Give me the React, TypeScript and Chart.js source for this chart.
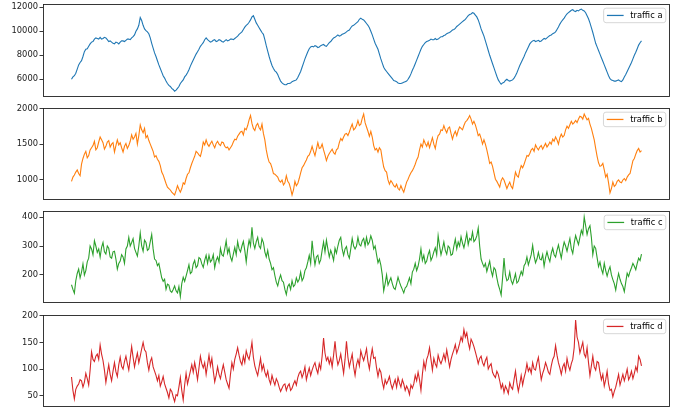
import React, { useEffect, useRef } from "react";
import { Chart, registerables } from "chart.js";

Chart.register(...registerables);

const seriesA = [
  6000, 6200, 6300, 6500, 6850, 7200, 7400, 7550, 7900, 8300, 8500, 8550, 8750, 8950, 9100, 9150, 9350, 9450, 9400, 9350,
  9500, 9350, 9400, 9500, 9450, 9300, 9150, 9200, 9100, 9000, 8950, 9100, 9050, 8950, 9100, 9200, 9200, 9150, 9250, 9350,
  9350, 9300, 9450, 9550, 9700, 10000, 10200, 10500, 11150, 10900, 10500, 10200, 10050, 9950, 9800, 9450, 9000, 8600, 8200, 7900,
  7550, 7200, 6900, 6600, 6300, 6100, 5850, 5650, 5500, 5400, 5250, 5150, 5000, 5100, 5250, 5400, 5650, 5800, 5950, 6200,
  6350, 6550, 6800, 7100, 7350, 7600, 7850, 8100, 8300, 8500, 8750, 8900, 9050, 9300, 9450, 9300, 9200, 9100, 9150, 9250,
  9300, 9150, 9200, 9300, 9250, 9150, 9100, 9200, 9300, 9200, 9250, 9350, 9350, 9300, 9400, 9500, 9600, 9750, 9850, 9950,
  10150, 10350, 10500, 10600, 10750, 10950, 11200, 11300, 11000, 10700, 10500, 10300, 10100, 9900, 9750, 9300, 8800, 8350, 7900, 7500,
  7150, 6900, 6700, 6600, 6400, 6100, 5850, 5700, 5600, 5550, 5550, 5650, 5650, 5700, 5800, 5850, 5900, 5950, 6150, 6400,
  6650, 7000, 7350, 7700, 8000, 8300, 8550, 8700, 8750, 8700, 8800, 8750, 8650, 8700, 8800, 8850, 8900, 8800, 8750, 8900,
  9050, 9150, 9300, 9450, 9500, 9600, 9700, 9600, 9650, 9750, 9800, 9850, 9950, 10050, 10100, 10300, 10450, 10500, 10600, 10700,
  10800, 11000, 11100, 11000, 10950, 10800, 10650, 10500, 10300, 10000, 9700, 9350, 9000, 8750, 8500, 8100, 7700, 7350, 7000, 6800,
  6650, 6500, 6350, 6200, 6050, 5900, 5850, 5800, 5700, 5650, 5650, 5700, 5750, 5800, 5850, 6000, 6200, 6450, 6750, 7000,
  7300, 7600, 7900, 8200, 8500, 8750, 8900, 9050, 9150, 9200, 9250, 9350, 9300, 9300, 9400, 9300, 9350, 9450, 9550, 9550,
  9650, 9700, 9800, 9850, 9900, 10000, 10100, 10150, 10250, 10400, 10500, 10600, 10700, 10800, 10900, 11000, 11150, 11300, 11400, 11450,
  11550, 11500, 11350, 11200, 10950, 10600, 10200, 9900, 9600, 9200, 8800, 8400, 8000, 7650, 7300, 6950, 6600, 6250, 5950, 5750,
  5600, 5700, 5750, 5900, 6000, 5900, 5850, 5900, 5950, 6100, 6300, 6550, 6850, 7150, 7400, 7650, 7900, 8200, 8450, 8700,
  8950, 9100, 9200, 9250, 9150, 9200, 9250, 9150, 9200, 9300, 9400, 9350, 9450, 9550, 9650, 9700, 9800, 9850, 9950, 10150,
  10350, 10600, 10800, 10950, 11100, 11300, 11450, 11550, 11650, 11750, 11800, 11700, 11650, 11750, 11700, 11800, 11850, 11750, 11700, 11550,
  11300, 11050, 10700, 10300, 9900, 9450, 9000, 8700, 8400, 8100, 7800, 7500, 7200, 6900, 6600, 6300, 6050, 5950, 5900, 5850,
  5850, 5900, 5950, 5850, 5800, 5950, 6200, 6400, 6650, 6900, 7150, 7400, 7700, 8000, 8250, 8550, 8850, 9050, 9200,
];

const seriesB = [
  980, 1040, 1070, 1110, 1140, 1090, 1060, 1220, 1300, 1360, 1400, 1310, 1340, 1420, 1450, 1480, 1540, 1420, 1450, 1530,
  1600, 1560, 1520, 1430, 1470, 1530, 1550, 1460, 1500, 1520, 1390, 1480, 1560, 1490, 1520, 1450, 1390, 1470, 1510, 1440,
  1480, 1540, 1630, 1570, 1600, 1650, 1500, 1620, 1770, 1700, 1660, 1720, 1590, 1620, 1550, 1500, 1450, 1400, 1320, 1340,
  1290, 1260, 1200, 1110, 1070, 1010, 950, 900, 880, 860, 830, 810, 790, 850, 920, 870, 830, 880, 960, 940,
  1020, 1080, 1100, 1170, 1230, 1280, 1330, 1400, 1380, 1350, 1330, 1410, 1530, 1490, 1560, 1500, 1470, 1510, 1540, 1490,
  1450, 1510, 1540, 1500, 1480, 1530, 1520, 1470, 1450, 1460, 1420, 1450, 1480, 1530, 1570, 1560, 1610, 1640, 1670, 1680,
  1630, 1720, 1700, 1760, 1840, 1900, 1790, 1720, 1690, 1760, 1790, 1730, 1700, 1780, 1650, 1560, 1420, 1320, 1250, 1230,
  1170, 1090, 1080, 1060, 1040, 990, 970, 1000, 930, 960, 1060, 980, 950, 880, 790, 860, 980, 920, 950, 1020,
  1100, 1170, 1200, 1240, 1280, 1330, 1350, 1400, 1470, 1400, 1340, 1430, 1520, 1440, 1450, 1500, 1420, 1350, 1270, 1330,
  1370, 1400, 1430, 1380, 1360, 1420, 1440, 1520, 1580, 1550, 1600, 1640, 1650, 1620, 1670, 1730, 1780, 1700, 1720, 1760,
  1830, 1760, 1780, 1860, 1920, 1800, 1740, 1680, 1610, 1680, 1600, 1480, 1420, 1440, 1390, 1450, 1420, 1290, 1180, 1130,
  1110, 1000, 940, 990, 960, 920, 900, 940, 880, 860, 920, 870, 830, 900, 970, 1010, 1060, 1100, 1130, 1170,
  1220, 1280, 1320, 1420, 1500, 1460, 1560, 1510, 1470, 1530, 1450, 1520, 1590, 1500, 1440, 1550, 1620, 1640, 1700, 1690,
  1760, 1700, 1660, 1720, 1740, 1650, 1570, 1640, 1680, 1620, 1690, 1740, 1720, 1700, 1760, 1810, 1830, 1860, 1900, 1850,
  1780, 1820, 1770, 1700, 1620, 1640, 1580, 1500, 1560, 1500, 1420, 1330, 1230, 1250, 1190, 1100, 1010, 980, 940, 900,
  990, 1030, 1000, 940, 880, 930, 970, 910, 880, 990, 1110, 1060, 1040, 1130, 1200, 1170, 1220, 1280, 1340, 1330,
  1370, 1420, 1440, 1400, 1490, 1450, 1420, 1460, 1480, 1430, 1470, 1510, 1460, 1490, 1530, 1500, 1570, 1540, 1600, 1560,
  1500, 1590, 1640, 1600, 1620, 1700, 1750, 1720, 1770, 1820, 1780, 1800, 1830, 1800, 1850, 1890, 1880, 1850, 1920, 1880,
  1840, 1860, 1780, 1720, 1640, 1560, 1440, 1330, 1240, 1190, 1200, 1230, 1140, 1040, 1080, 960, 820, 880, 970, 910,
  930, 980, 1000, 970, 960, 1000, 1020, 990, 1040, 1070, 1090, 1180, 1270, 1300, 1360, 1410, 1440, 1390, 1410,
];

const seriesC = [
  166, 150, 137, 180, 205, 220, 190, 210, 238, 200, 215, 245, 258, 300, 290, 270, 318, 300, 278, 290,
  262, 295, 312, 280, 272, 300, 292, 262, 258, 280, 282, 255, 220, 240, 248, 270, 262, 240, 290, 300,
  330, 300, 312, 325, 292, 278, 265, 300, 345, 300, 282, 320, 312, 285, 290, 315, 340, 290, 255, 250,
  232, 240, 215, 190, 178, 185, 150, 168, 165, 145, 140, 150, 162, 145, 138, 160, 125, 170, 192, 178,
  196, 215, 235, 205, 210, 238, 250, 225, 232, 260, 256, 238, 226, 250, 268, 240, 268, 245, 252, 270,
  225, 250, 262, 245, 292, 270, 265, 290, 318, 275, 292, 262, 248, 272, 295, 270, 315, 290, 280, 300,
  316, 285, 245, 290, 320, 300, 365, 310, 292, 315, 330, 300, 292, 325, 312, 280, 262, 285, 255, 240,
  218, 225, 198, 175, 162, 185, 200, 180, 175, 150, 132, 160, 168, 150, 180, 160, 166, 190, 175, 185,
  210, 180, 190, 215, 225, 245, 268, 240, 318, 270, 235, 262, 268, 240, 252, 285, 314, 280, 320, 290,
  262, 285, 270, 250, 292, 275, 300, 320, 330, 290, 268, 290, 298, 270, 258, 290, 326, 300, 290, 300,
  330, 305, 300, 318, 326, 300, 330, 305, 314, 335, 320, 290, 300, 270, 242, 255, 234, 200, 145, 170,
  200, 165, 178, 190, 170, 155, 150, 170, 192, 175, 162, 150, 138, 155, 160, 175, 190, 170, 210, 220,
  240, 215, 230, 255, 290, 250, 268, 240, 248, 270, 284, 250, 262, 280, 294, 270, 336, 300, 270, 290,
  314, 285, 272, 300, 294, 268, 272, 300, 324, 290, 314, 300, 332, 310, 294, 318, 344, 305, 326, 320,
  348, 315, 322, 335, 362, 300, 255, 240, 228, 240, 212, 230, 248, 215, 196, 225, 218, 190, 166, 150,
  131, 190, 258, 200, 180, 185, 210, 180, 168, 185, 204, 172, 178, 195, 212, 200, 232, 240, 262, 235,
  252, 270, 302, 265, 242, 255, 278, 255, 252, 270, 230, 260, 280, 260, 246, 275, 292, 270, 262, 285,
  304, 280, 258, 290, 314, 300, 282, 305, 326, 290, 274, 310, 336, 320, 305, 330, 354, 340, 400, 370,
  340, 360, 370, 330, 270, 300, 292, 260, 229, 245, 220, 205, 240, 215, 196, 215, 228, 200, 184, 170,
  148, 180, 205, 185, 170, 160, 142, 175, 206, 195, 212, 225, 240, 230, 218, 240, 258, 250, 272,
];

const seriesD = [
  85, 60, 44, 62, 68, 72, 80, 78, 66, 75, 92, 82, 70, 98, 132, 118, 114, 124, 128, 118,
  145, 128, 116, 98, 75, 92, 108, 90, 78, 96, 112, 95, 86, 108, 122, 105, 100, 114, 124, 110,
  98, 120, 142, 122, 104, 118, 130, 112, 124, 138, 150, 136, 132, 112, 98, 114, 121, 104, 96, 88,
  78, 88, 68, 76, 86, 72, 64, 56, 46, 62, 58, 48, 39, 52, 50, 66, 84, 60, 42, 70,
  92, 72, 84, 96, 108, 94, 112, 98, 80, 102, 124, 110, 102, 112, 90, 108, 126, 106, 120, 96,
  76, 88, 104, 90, 82, 96, 108, 94, 80, 72, 64, 90, 112, 100, 118, 128, 140, 126, 114, 108,
  124, 112, 134, 124, 118, 132, 150, 122, 106, 96, 88, 104, 120, 98, 108, 94, 86, 96, 80, 72,
  88, 78, 70, 82, 76, 66, 58, 64, 70, 72, 60, 68, 72, 60, 64, 72, 78, 70, 84, 92,
  96, 84, 92, 104, 80, 92, 102, 88, 98, 106, 112, 100, 92, 110, 100, 124, 158, 130, 116, 122,
  110, 120, 104, 126, 152, 124, 108, 116, 128, 110, 92, 118, 152, 122, 104, 116, 128, 104, 88, 108,
  118, 106, 134, 124, 116, 126, 138, 114, 100, 122, 138, 120, 122, 102, 86, 100, 94, 76, 64, 80,
  72, 78, 86, 72, 63, 72, 80, 66, 84, 74, 66, 80, 72, 60, 68, 62, 52, 70, 64, 72,
  88, 78, 94, 80, 60, 90, 114, 100, 118, 126, 140, 118, 98, 120, 110, 104, 126, 116, 110, 118,
  128, 116, 136, 120, 104, 118, 128, 136, 146, 130, 138, 148, 160, 152, 174, 160, 168, 150, 138, 156,
  150, 142, 132, 122, 110, 120, 124, 112, 106, 116, 122, 100, 106, 110, 94, 88, 84, 96, 90, 78,
  64, 72, 56, 68, 62, 54, 74, 66, 62, 80, 96, 74, 58, 72, 88, 70, 84, 94, 110, 96,
  102, 92, 112, 100, 98, 112, 122, 100, 80, 92, 100, 112, 104, 94, 90, 106, 118, 124, 144, 126,
  112, 102, 90, 104, 110, 96, 120, 106, 98, 110, 118, 140, 192, 160, 150, 130, 140, 150, 128, 122,
  140, 112, 88, 106, 124, 104, 98, 114, 112, 94, 80, 90, 68, 80, 96, 72, 60, 62, 48, 58,
  66, 78, 90, 70, 80, 90, 78, 88, 100, 80, 86, 96, 82, 92, 104, 96, 124, 118, 106,
];

const seriesLabels = ["traffic a", "traffic b", "traffic c", "traffic d"];
const seriesValues = [seriesA, seriesB, seriesC, seriesD];
const seriesColors = ["#1f77b4", "#ff7f0e", "#2ca02c", "#d62728"];

const yTicksA = [6000, 8000, 10000, 12000];
const yTicksB = [1000, 1500, 2000];
const yTicksC = [200, 300, 400];
const yTicksD = [50, 100, 150, 200];
const yTickValues = [yTicksA, yTicksB, yTicksC, yTicksD];
const yMins = [4525, 720, 103, 28.8];
const yMaxs = [12275, 2005, 421, 201.3];

// layout (pixels)
const W = 677;
const H = 409;
const PLOT_LEFT = 43;
const PLOT_RIGHT = 670;
const PAD = 10;
const panelTops = [4, 108, 211, 315];
const panelBottoms = [97, 200, 303, 407];
const FONT = "'DejaVu Sans', 'Liberation Sans', sans-serif";
const FS = 8.33;

Chart.defaults.font.family = FONT;
Chart.defaults.font.size = FS;
Chart.defaults.color = "#000";

const frameLegendPlugin = {
  id: "frameLegend",
  afterDraw(chart: any) {
    const { ctx, chartArea: a } = chart;
    ctx.save();
    ctx.strokeStyle = "#222";
    ctx.lineWidth = 0.9;
    ctx.strokeRect(
      Math.round(a.left) + 0.5,
      Math.round(a.top) + 0.5,
      Math.round(a.right) - Math.round(a.left) - 1,
      Math.round(a.bottom) - Math.round(a.top) - 1
    );
    const ds = chart.data.datasets[0];
    ctx.font = `${FS}px ${FONT}`;
    const tw = ctx.measureText(ds.label).width;
    const bp = 3.3;
    const hl = 16.7;
    const htp = 6.7;
    const w = bp + hl + htp + tw + bp;
    const h = 14.5;
    const x = a.right - 4.2 - w;
    const y = a.top + 4.2;
    const r = 2.5;
    ctx.beginPath();
    ctx.moveTo(x + r, y);
    ctx.lineTo(x + w - r, y);
    ctx.quadraticCurveTo(x + w, y, x + w, y + r);
    ctx.lineTo(x + w, y + h - r);
    ctx.quadraticCurveTo(x + w, y + h, x + w - r, y + h);
    ctx.lineTo(x + r, y + h);
    ctx.quadraticCurveTo(x, y + h, x, y + h - r);
    ctx.lineTo(x, y + r);
    ctx.quadraticCurveTo(x, y, x + r, y);
    ctx.closePath();
    ctx.fillStyle = "rgba(255,255,255,0.8)";
    ctx.fill();
    ctx.strokeStyle = "#cccccc";
    ctx.lineWidth = 0.8;
    ctx.stroke();
    const cy = y + h / 2;
    ctx.beginPath();
    ctx.moveTo(x + bp, cy);
    ctx.lineTo(x + bp + hl, cy);
    ctx.strokeStyle = ds.borderColor;
    ctx.lineWidth = 1.25;
    ctx.stroke();
    ctx.fillStyle = "#000";
    ctx.textBaseline = "middle";
    ctx.textAlign = "left";
    ctx.fillText(ds.label, x + bp + hl + htp, cy + 0.5);
    ctx.restore();
  },
};

function Panel({ idx }: { idx: number }) {
  const ref = useRef<HTMLCanvasElement>(null);
  const top = panelTops[idx] - PAD;
  const height = panelBottoms[idx] - panelTops[idx] + 2 * PAD;

  useEffect(() => {
    const values = seriesValues[idx];
    const n = values.length;
    const chart = new Chart(ref.current as HTMLCanvasElement, {
      type: "line",
      data: {
        datasets: [
          {
            label: seriesLabels[idx],
            data: values.map((v, i) => ({ x: i, y: v })),
            borderColor: seriesColors[idx],
            backgroundColor: seriesColors[idx],
            borderWidth: 1.1,
            pointRadius: 0,
            tension: 0,
            fill: false,
          },
        ],
      },
      options: {
        animation: false,
        responsive: false,
        devicePixelRatio: 1,
        events: [],
        layout: {
          padding: { left: 0, right: W - PLOT_RIGHT, top: PAD, bottom: PAD },
        },
        plugins: {
          legend: { display: false },
          tooltip: { enabled: false },
          title: { display: false },
        },
        scales: {
          x: {
            type: "linear",
            display: false,
            min: -0.05 * (n - 1),
            max: (n - 1) * 1.05,
          },
          y: {
            type: "linear",
            position: "left",
            min: yMins[idx],
            max: yMaxs[idx],
            afterFit: (s: any) => {
              s.width = PLOT_LEFT;
            },
            afterBuildTicks: (s: any) => {
              s.ticks = yTickValues[idx].map((v) => ({ value: v }));
            },
            border: { display: false },
            grid: {
              display: true,
              drawOnChartArea: false,
              drawTicks: true,
              tickLength: 3.5,
              tickColor: "#222",
              tickWidth: 0.9,
            },
            ticks: {
              padding: 1.5,
              color: "#222",
              autoSkip: false,
              font: { family: FONT, size: FS },
              callback: (v: any) => String(v),
            },
          },
        },
      },
      plugins: [frameLegendPlugin],
    } as any);
    return () => chart.destroy();
  }, [idx]);

  return (
    <canvas
      ref={ref}
      width={W}
      height={height}
      style={{ position: "absolute", left: 0, top, width: W, height }}
    />
  );
}

export default function App() {
  return (
    <div
      style={{
        position: "fixed",
        left: 0,
        top: 0,
        width: W,
        height: H,
        background: "#fff",
        overflow: "hidden",
      }}
    >
      {seriesLabels.map((_, i) => (
        <Panel key={i} idx={i} />
      ))}
    </div>
  );
}
